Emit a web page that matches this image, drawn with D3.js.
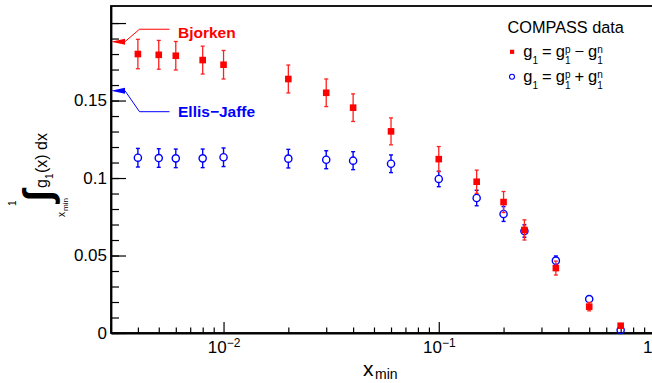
<!DOCTYPE html>
<html>
<head>
<meta charset="utf-8">
<script src="https://cdn.jsdelivr.net/npm/d3@7"></script>
<style>
  body { margin: 0; background: #fff; }
  text { font-family: "Liberation Sans", Arial, Helvetica, sans-serif; }
</style>
</head>
<body>
<script>
// x_min values of the COMPASS points
const xMin = [0.004, 0.005, 0.006, 0.008, 0.01, 0.02, 0.03, 0.04, 0.06, 0.1, 0.15, 0.2, 0.25, 0.35, 0.5, 0.7];

// g1 = g1p - g1n  (red squares)
const nsVal = [0.1800, 0.1795, 0.1789, 0.1761, 0.1731, 0.1639, 0.1550, 0.1454, 0.1301, 0.1122, 0.0976, 0.0845, 0.0665, 0.0419, 0.0170, 0.0047];
const nsErr = [0.0095, 0.0093, 0.0092, 0.0090, 0.0092, 0.0090, 0.0089, 0.0089, 0.0087, 0.0081, 0.0075, 0.0068, 0.0065, 0.0045, 0.0027, 0.0012];

// g1 = g1p + g1n  (blue open circles)
const sVal = [0.1131, 0.1129, 0.1127, 0.1127, 0.1134, 0.1125, 0.1118, 0.1112, 0.1092, 0.0994, 0.0871, 0.0768, 0.0658, 0.0467, 0.0219, 0.0019];
const sErr = [0.0060, 0.0060, 0.0060, 0.0060, 0.0060, 0.0060, 0.0058, 0.0058, 0.0057, 0.0050, 0.0050, 0.0048, 0.0040, 0.0030, 0.0015, 0.0010];

// sum rule predictions marked with arrows on the y axis
const refNames = ['Bjorken', 'Ellis\u2212Jaffe'];
const refValues = [0.188, 0.1563];
const refLineValues = [0.196, 0.1428];
const refTextValues = [0.1905, 0.1395];
const refColors = ['#ff0000', '#0000ff'];

// axis ticks
const xMajor = [0.01, 0.1, 1];
const xMajorExp = ['\u22122', '\u22121', null];
const xMinor = [0.004, 0.005, 0.006, 0.007, 0.008, 0.009,
                0.02, 0.03, 0.04, 0.05, 0.06, 0.07, 0.08, 0.09,
                0.2, 0.3, 0.4, 0.5, 0.6, 0.7, 0.8, 0.9];
const yMajor = [0, 0.05, 0.1, 0.15, 0.2];
const yLabels = ['0', '0.05', '0.1', '0.15', ''];
const yMinor = d3.range(0, 21).map(i => i / 100);

const width = 652, height = 383;
const margin = { top: 6, right: -2, bottom: 50, left: 111 };

const svg = d3.select('body').append('svg')
    .attr('width', width)
    .attr('height', height)
    .style('background-color', 'white');

const x = d3.scaleLog()
    .domain([0.003, 1])
    .range([margin.left, width - margin.right]);

const y = d3.scaleLinear()
    .domain([0, 0.211])
    .range([height - margin.bottom, margin.top]);

// frame
svg.append('rect')
    .attr('x', margin.left)
    .attr('y', margin.top)
    .attr('width', width - margin.right - margin.left)
    .attr('height', height - margin.bottom - margin.top)
    .attr('fill', 'none')
    .attr('stroke', '#000')
    .attr('stroke-width', 1.8);

// y axis
svg.append('g')
    .attr('transform', `translate(${margin.left},0)`)
    .call(d3.axisLeft(y).tickValues(yMinor).tickSizeInner(-8).tickSizeOuter(0).tickFormat(''))
    .call(g => g.select('.domain').remove())
    .call(g => g.selectAll('.tick line').attr('stroke-width', 1.2));

svg.append('g')
    .attr('transform', `translate(${margin.left},0)`)
    .call(d3.axisLeft(y).tickValues(yMajor).tickSizeInner(-15).tickSizeOuter(0).tickPadding(4)
        .tickFormat((d, i) => yLabels[i]))
    .call(g => g.select('.domain').attr('stroke-width', 1.8))
    .call(g => g.selectAll('.tick line').attr('stroke-width', 1.2))
    .call(g => g.selectAll('.tick text')
        .attr('font-size', 17)
        .attr('font-family', '"Liberation Sans", Arial, sans-serif')
        .attr('fill', '#000'));

// x axis
svg.append('g')
    .attr('transform', `translate(0,${height - margin.bottom})`)
    .call(d3.axisBottom(x).tickValues(xMinor).tickSizeInner(-5.5).tickSizeOuter(0).tickFormat(''))
    .call(g => g.select('.domain').remove())
    .call(g => g.selectAll('.tick line').attr('stroke-width', 1.2));

svg.append('g')
    .attr('transform', `translate(0,${height - margin.bottom})`)
    .call(d3.axisBottom(x).tickValues(xMajor).tickSizeInner(-11).tickSizeOuter(0).tickPadding(8)
        .tickFormat(() => ''))
    .call(g => g.select('.domain').attr('stroke-width', 1.8))
    .call(g => g.selectAll('.tick line').attr('stroke-width', 1.2))
    .call(g => g.selectAll('.tick text')
        .attr('font-size', 17)
        .attr('font-family', '"Liberation Sans", Arial, sans-serif')
        .attr('fill', '#000')
        .each(function (d, i) {
            const t = d3.select(this).text(null);
            if (xMajorExp[i] === null) {
                // last label sits at the right edge of the picture
                t.attr('text-anchor', 'end').attr('x', -2).append('tspan').text('1');
            } else {
                t.append('tspan').text('10');
                t.append('tspan').attr('font-size', 12).attr('dy', '-0.5em').text(xMajorExp[i]);
            }
        }));

// lays out pieces of text one after another (sub/superscripts can stack)
function rich(g, x0, y0, parts, attrs) {
    let cx = x0, last = x0;
    parts.forEach(p => {
        const sx = (p.stack ? last : cx) + (p.dx || 0);
        const t = g.append('text')
            .attr('x', sx)
            .attr('y', y0 + (p.dy || 0))
            .attr('font-size', p.size)
            .text(p.t);
        Object.entries(attrs || {}).forEach(([k, v]) => t.attr(k, v));
        const w = t.node().getComputedTextLength();
        if (!p.stack) last = sx;
        cx = Math.max(cx, sx + w);
    });
    return cx;
}

// x axis title
rich(svg, 363, 376, [
    { t: 'x', size: 21 },
    { t: 'min', size: 14, dx: 1.5, dy: 2.5 }
]);

// y axis title, rotated
const yt = svg.append('g').attr('transform', 'translate(46,217) rotate(-90)');
rich(yt, 0, 19, [{ t: 'x', size: 10 }]);
rich(yt, 6, 22, [{ t: 'min', size: 8 }]);
rich(yt, 11, -30, [{ t: '1', size: 10 }]);
rich(yt, 15.5, 5, [{ t: '\u222B', size: 40 }], { 'font-family': '"DejaVu Sans", sans-serif', 'font-weight': 'bold' });
rich(yt, 29, 1, [
    { t: 'g', size: 16 },
    { t: '1', size: 10, dy: 6 },
    { t: '(x) dx', size: 16, dx: 0.5 }
]);

// reference arrows
refNames.forEach((name, i) => {
    const yv = y(refValues[i]);
    const yl = y(refLineValues[i]);
    const x0 = margin.left;
    svg.append('path')
        .attr('d', `M${x0},${yv}L${x0 + 14},${yv - 3}L${x0 + 14},${yv + 3}Z`)
        .attr('fill', refColors[i]);
    svg.append('path')
        .attr('d', `M${x0 + 14},${yv}L${x0 + 28.5},${yl}L${x0 + 58.5},${yl}`)
        .attr('fill', 'none')
        .attr('stroke', refColors[i])
        .attr('stroke-width', 1);
    svg.append('text')
        .attr('x', x0 + 67)
        .attr('y', y(refTextValues[i]))
        .attr('font-size', 15.5)
        .attr('font-weight', 'bold')
        .attr('fill', refColors[i])
        .text(name);
});

// data
const pts = xMin.map((xv, i) => ({ x: xv, ns: nsVal[i], nsE: nsErr[i], s: sVal[i], sE: sErr[i] }));
const r = 3.6;

// blue open circles with error bars that stop at the marker
const gS = svg.append('g').attr('stroke', '#0000ff').attr('stroke-width', 1.4);
pts.forEach(d => {
    const cx = x(d.x), cy = y(d.s), top = y(d.s + d.sE), bot = y(d.s - d.sE);
    if (cy - top > r) {
        gS.append('line').attr('x1', cx).attr('x2', cx).attr('y1', top).attr('y2', cy - r);
        gS.append('line').attr('x1', cx).attr('x2', cx).attr('y1', cy + r).attr('y2', bot);
        gS.append('line').attr('x1', cx - 2).attr('x2', cx + 2).attr('y1', top).attr('y2', top);
        gS.append('line').attr('x1', cx - 2).attr('x2', cx + 2).attr('y1', bot).attr('y2', bot);
    }
});
gS.selectAll('circle')
    .data(pts)
    .join('circle')
    .attr('cx', d => x(d.x))
    .attr('cy', d => y(d.s))
    .attr('r', r)
    .attr('fill', 'none');

// red filled squares with error bars
const gN = svg.append('g').attr('stroke', '#ff2020').attr('stroke-width', 1.3);
pts.forEach(d => {
    const cx = x(d.x), top = y(d.ns + d.nsE), bot = y(d.ns - d.nsE);
    gN.append('line').attr('x1', cx).attr('x2', cx).attr('y1', top).attr('y2', bot);
    gN.append('line').attr('x1', cx - 2).attr('x2', cx + 2).attr('y1', top).attr('y2', top);
    gN.append('line').attr('x1', cx - 2).attr('x2', cx + 2).attr('y1', bot).attr('y2', bot);
});
svg.append('g').selectAll('rect')
    .data(pts)
    .join('rect')
    .attr('x', d => x(d.x) - 3.3)
    .attr('y', d => y(d.ns) - 3.3)
    .attr('width', 6.6)
    .attr('height', 6.6)
    .attr('fill', '#ff0000');

// legend
const lg = svg.append('g');
lg.append('text')
    .attr('x', 507.5)
    .attr('y', 32.7)
    .attr('font-size', 16.3)
    .text('COMPASS data');
lg.append('rect')
    .attr('x', 510).attr('y', 49.7).attr('width', 4.2).attr('height', 4.2)
    .attr('fill', '#ff0000');
lg.append('circle')
    .attr('cx', 512).attr('cy', 76.7).attr('r', 2.5)
    .attr('fill', 'none').attr('stroke', '#0000ff').attr('stroke-width', 1.1);

const formula = op => [
    { t: 'g', size: 16.5 },
    { t: '1', size: 10, dy: 7.5 },
    { t: '=', size: 16.5, dx: 4 },
    { t: 'g', size: 16.5, dx: 4 },
    { t: 'p', size: 10, dy: -4 },
    { t: '1', size: 10, dy: 7.5, stack: true },
    { t: op, size: 16.5, dx: 4 },
    { t: 'g', size: 16.5, dx: 4 },
    { t: 'n', size: 10, dy: -4 },
    { t: '1', size: 10, dy: 7.5, stack: true }
];
rich(lg, 523.3, 56.5, formula('\u2212'));
rich(lg, 523.3, 81.5, formula('+'));
</script>
</body>
</html>
